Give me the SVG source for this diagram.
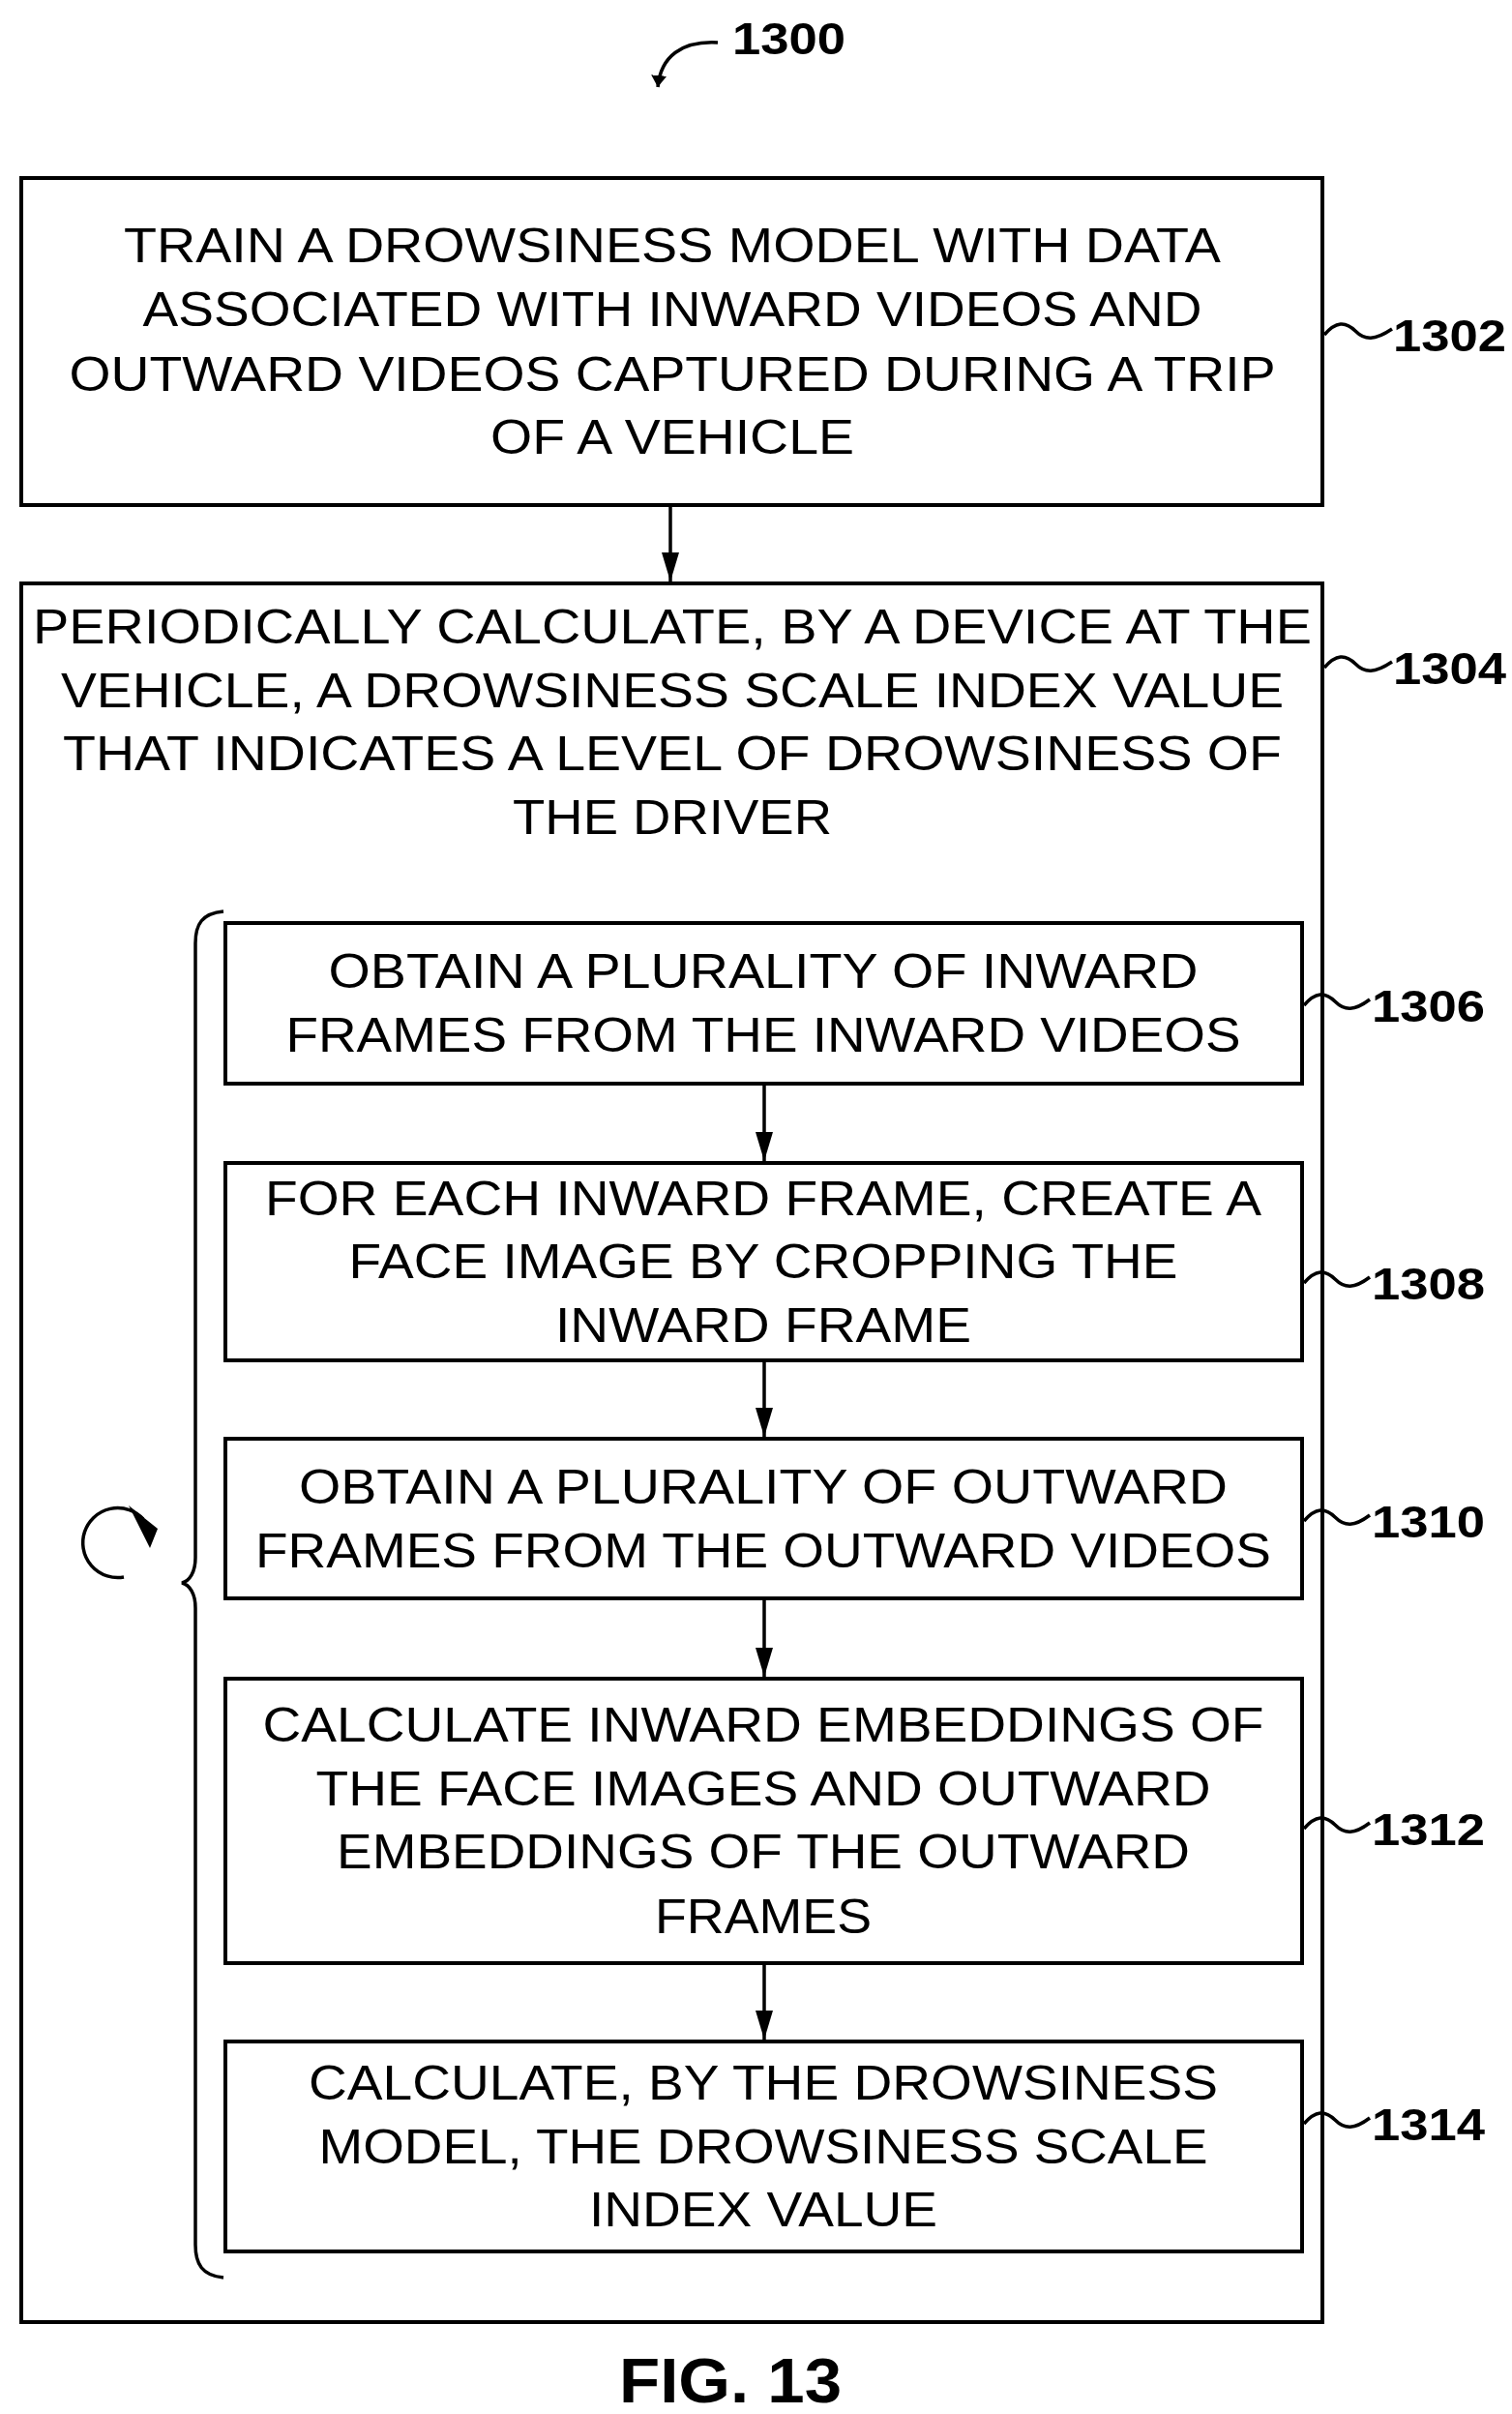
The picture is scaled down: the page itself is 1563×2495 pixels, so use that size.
<svg xmlns="http://www.w3.org/2000/svg" width="1563" height="2495" viewBox="0 0 1563 2495">
<style>
.b{fill:#fff;stroke:#000;stroke-width:4}
.t{font-family:"Liberation Sans",Arial,sans-serif;font-size:50px;text-anchor:middle}
.l{font-family:"Liberation Sans",Arial,sans-serif;font-size:46px;font-weight:bold}
.c{fill:none;stroke:#000;stroke-width:3.5}
</style>
<defs><marker id="a" markerWidth="12" markerHeight="16" refX="12" refY="8" orient="auto" markerUnits="userSpaceOnUse" viewBox="0 0 12 16"><path d="M0,0L12,8L0,16z"/></marker>
<marker id="s" markerWidth="30" markerHeight="18" refX="30" refY="9" orient="auto" markerUnits="userSpaceOnUse" viewBox="0 0 30 18"><path d="M0,0L30,9L0,18z"/></marker></defs>
<g id="n1300"><text class="l" x="757" y="56" textLength="117" lengthAdjust="spacingAndGlyphs">1300</text><path class="c" d="M742,44 C705,42 683,58 680,90" marker-end="url(#a)"/></g>
<g id="n1302"><rect class="b" x="22" y="184" width="1345" height="338"/>
<text class="t" x="695" y="271" textLength="1134" lengthAdjust="spacingAndGlyphs">TRAIN A DROWSINESS MODEL WITH DATA</text>
<text class="t" x="695" y="337" textLength="1095" lengthAdjust="spacingAndGlyphs">ASSOCIATED WITH INWARD VIDEOS AND</text>
<text class="t" x="695" y="404" textLength="1247" lengthAdjust="spacingAndGlyphs">OUTWARD VIDEOS CAPTURED DURING A TRIP</text>
<text class="t" x="695" y="469" textLength="376" lengthAdjust="spacingAndGlyphs">OF A VEHICLE</text>
<path class="c" d="M1369,346 c12,-14 22,-14 32,-4 s20,10 38,-2"/><text class="l" x="1440" y="363" textLength="117" lengthAdjust="spacingAndGlyphs">1302</text></g>
<g id="n1304"><rect class="b" x="22" y="603" width="1345" height="1797"/>
<text class="t" x="695" y="665" textLength="1322" lengthAdjust="spacingAndGlyphs">PERIODICALLY CALCULATE, BY A DEVICE AT THE</text>
<text class="t" x="695" y="731" textLength="1264" lengthAdjust="spacingAndGlyphs">VEHICLE, A DROWSINESS SCALE INDEX VALUE</text>
<text class="t" x="695" y="796" textLength="1260" lengthAdjust="spacingAndGlyphs">THAT INDICATES A LEVEL OF DROWSINESS OF</text>
<text class="t" x="695" y="862" textLength="330" lengthAdjust="spacingAndGlyphs">THE DRIVER</text>
<path class="c" d="M1369,690 c12,-14 22,-14 32,-4 s20,10 38,-2"/><text class="l" x="1440" y="707" textLength="117" lengthAdjust="spacingAndGlyphs">1304</text></g>
<g id="loop"><path class="c" d="M231,942 C209,944 202,955 202,975 L202,1610 C202,1625 196,1634 188,1636 C196,1638 202,1647 202,1662 L202,2320 C202,2340 209,2352 231,2354"/>
<path class="c" d="M148,1570 A36,36 0 1 0 128,1630"/><path d="M133,1556 L163,1580 L155,1600 z"/></g>
<g id="n1306"><rect class="b" x="233" y="954" width="1113" height="166"/>
<text class="t" x="789" y="1021" textLength="899" lengthAdjust="spacingAndGlyphs">OBTAIN A PLURALITY OF INWARD</text>
<text class="t" x="789" y="1087" textLength="987" lengthAdjust="spacingAndGlyphs">FRAMES FROM THE INWARD VIDEOS</text>
<path class="c" d="M1348,1039 c12,-14 22,-14 32,-4 s20,10 36,-2"/><text class="l" x="1418" y="1056" textLength="117" lengthAdjust="spacingAndGlyphs">1306</text></g>
<g id="n1308"><rect class="b" x="233" y="1202" width="1113" height="204"/>
<text class="t" x="789" y="1256" textLength="1030" lengthAdjust="spacingAndGlyphs">FOR EACH INWARD FRAME, CREATE A</text>
<text class="t" x="789" y="1321" textLength="857" lengthAdjust="spacingAndGlyphs">FACE IMAGE BY CROPPING THE</text>
<text class="t" x="789" y="1387" textLength="430" lengthAdjust="spacingAndGlyphs">INWARD FRAME</text>
<path class="c" d="M1348,1326 c12,-14 22,-14 32,-4 s20,10 36,-2"/><text class="l" x="1418" y="1343" textLength="117" lengthAdjust="spacingAndGlyphs">1308</text></g>
<g id="n1310"><rect class="b" x="233" y="1487" width="1113" height="165"/>
<text class="t" x="789" y="1554" textLength="960" lengthAdjust="spacingAndGlyphs">OBTAIN A PLURALITY OF OUTWARD</text>
<text class="t" x="789" y="1620" textLength="1050" lengthAdjust="spacingAndGlyphs">FRAMES FROM THE OUTWARD VIDEOS</text>
<path class="c" d="M1348,1572 c12,-14 22,-14 32,-4 s20,10 36,-2"/><text class="l" x="1418" y="1589" textLength="117" lengthAdjust="spacingAndGlyphs">1310</text></g>
<g id="n1312"><rect class="b" x="233" y="1735" width="1113" height="294"/>
<text class="t" x="789" y="1800" textLength="1035" lengthAdjust="spacingAndGlyphs">CALCULATE INWARD EMBEDDINGS OF</text>
<text class="t" x="789" y="1866" textLength="925" lengthAdjust="spacingAndGlyphs">THE FACE IMAGES AND OUTWARD</text>
<text class="t" x="789" y="1931" textLength="882" lengthAdjust="spacingAndGlyphs">EMBEDDINGS OF THE OUTWARD</text>
<text class="t" x="789" y="1998" textLength="224" lengthAdjust="spacingAndGlyphs">FRAMES</text>
<path class="c" d="M1348,1890 c12,-14 22,-14 32,-4 s20,10 36,-2"/><text class="l" x="1418" y="1907" textLength="117" lengthAdjust="spacingAndGlyphs">1312</text></g>
<g id="n1314"><rect class="b" x="233" y="2110" width="1113" height="217"/>
<text class="t" x="789" y="2170" textLength="940" lengthAdjust="spacingAndGlyphs">CALCULATE, BY THE DROWSINESS</text>
<text class="t" x="789" y="2236" textLength="919" lengthAdjust="spacingAndGlyphs">MODEL, THE DROWSINESS SCALE</text>
<text class="t" x="789" y="2301" textLength="360" lengthAdjust="spacingAndGlyphs">INDEX VALUE</text>
<path class="c" d="M1348,2195 c12,-14 22,-14 32,-4 s20,10 36,-2"/><text class="l" x="1418" y="2212" textLength="117" lengthAdjust="spacingAndGlyphs">1314</text></g>
<g id="connectors">
<line class="c" x1="693" y1="522" x2="693" y2="601" marker-end="url(#s)"/>
<line class="c" x1="790" y1="1120" x2="790" y2="1200" marker-end="url(#s)"/>
<line class="c" x1="790" y1="1406" x2="790" y2="1485" marker-end="url(#s)"/>
<line class="c" x1="790" y1="1652" x2="790" y2="1733" marker-end="url(#s)"/>
<line class="c" x1="790" y1="2029" x2="790" y2="2108" marker-end="url(#s)"/>
</g>
<text x="755" y="2483" style="font-family:'Liberation Sans',Arial,sans-serif;font-size:64px;font-weight:bold;text-anchor:middle" textLength="230" lengthAdjust="spacingAndGlyphs">FIG. 13</text>
</svg>
